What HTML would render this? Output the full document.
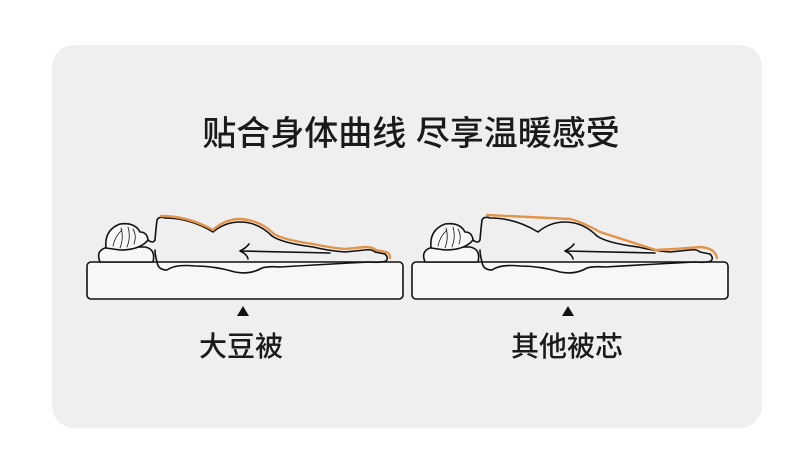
<!DOCTYPE html>
<html><head><meta charset="utf-8"><style>
body{margin:0;background:#fff;width:790px;height:462px;overflow:hidden}
svg{display:block}
text{font-family:"Liberation Sans","Noto Sans CJK SC",sans-serif;fill:#1a1a1a}
</style></head><body>
<svg width="790" height="462" viewBox="0 0 790 462">
<rect x="52" y="45" width="710" height="383" rx="22" fill="#efefef"/>
<text x="411" y="145" font-size="34" font-weight="500" text-anchor="middle">贴合身体曲线 尽享温暖感受</text>
<defs>
<g id="fig" fill="none" stroke="#111" stroke-width="1.6" stroke-linejoin="round" stroke-linecap="round">
<rect x="87" y="262" width="316" height="37" rx="4" fill="#f7f7f7"/>
<path d="M100 262 Q95 250 108 247 L145 247 Q156 249 153 262 Z" fill="#f7f7f7"/>
<path d="M106 248 Q104 230 120 224 Q135 222 140 232 Q147 232 148 240 Q140 250 120 250 Z" fill="#f7f7f7"/>
<path d="M113 246 Q115 236 122 230 M120 248 Q124 238 121 228 M127 247 Q131 237 128 227 M134 244 Q137 236 133 229" stroke-width="0.8"/>
<path d="M148 240 Q153 244 155 240 Q156 228 157 220 Q159 216 165 218 Q190 218 213 232 Q225 222 240 222 Q258 222 272 236 Q282 243 313 247 Q330 251 345 252 L365 250 Q372 249 375 252 L385 254 Q389 258 386 261 Q380 263 370 262 Q330 264 280 267 Q268 266 262 268 Q250 275 235 272 Q215 266 195 266 Q175 264 167 270 Q158 270 157 262 Q155 255 155 250"/>
<path d="M240 251 L330 253 M240 251 Q246 248 249 244 M240 251 Q247 254 248 259"/>
</g>
</defs>
<use href="#fig"/>
<use href="#fig" transform="translate(325,0)"/>
<path d="M161 216 Q188 216 213 230 Q225 219 240 219 Q260 220 274 234 Q284 240 313 244 Q332 248 345 249 L365 247 Q373 247 376 250 L386 252 Q390 253 390 258" fill="none" stroke="#e2954a" stroke-width="2.4" stroke-linecap="round"/>
<path d="M487 215 L570 219 Q580 221 600 232 L656 250 Q680 249 700 247 Q715 248 717 258" fill="none" stroke="#e2954a" stroke-width="2.4" stroke-linecap="round"/>
<polygon points="243,306 237,316 249,316" fill="#111"/>
<polygon points="568,306 562,316 574,316" fill="#111"/>
<text x="241" y="356" font-size="28" font-weight="500" text-anchor="middle">大豆被</text>
<text x="567" y="356" font-size="28" font-weight="500" text-anchor="middle">其他被芯</text>
</svg>
</body></html>
